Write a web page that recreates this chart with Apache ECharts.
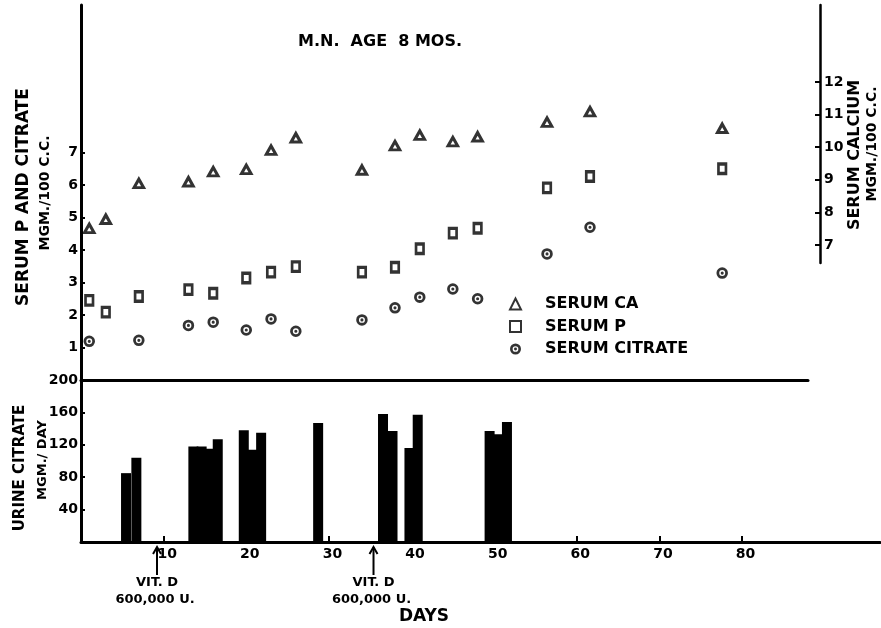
<!DOCTYPE html>
<html>
<head>
<meta charset="utf-8">
<script src="https://cdn.jsdelivr.net/npm/echarts@6/dist/echarts.min.js"></script>
<style>html,body{margin:0;padding:0;background:#fff}#c{width:881px;height:628px}</style>
</head>
<body>
<div id="c"></div>
<script>
// ---------- data ----------
const serumDays = [1, 3, 7, 13, 16, 20, 23, 26, 34, 38, 41, 45, 48, 56.4, 61.6, 77.6];
const serumCa   = [7.51, 7.79, 8.89, 8.94, 9.25, 9.32, 9.91, 10.29, 9.30, 10.05, 10.37, 10.17, 10.32, 10.77, 11.09, 10.58];
const serumP    = [2.45, 2.09, 2.57, 2.78, 2.67, 3.14, 3.32, 3.49, 3.32, 3.47, 4.04, 4.52, 4.67, 5.91, 6.26, 6.50];
const citrateDays = [1, 7, 13, 16, 20, 23, 26, 34, 38, 41, 45, 48, 56.4, 61.6, 77.6];
const serumCitrate = [1.19, 1.22, 1.68, 1.78, 1.54, 1.88, 1.50, 1.85, 2.22, 2.55, 2.80, 2.50, 3.88, 4.70, 3.29];
const urineDays = [5.45, 6.7, 13.6, 14.6, 15.6, 16.55, 19.7, 20.75, 21.8, 28.7, 36.55, 37.7, 39.75, 40.75, 49.45, 50.5, 51.55];
const urineCitrate = [85, 104, 118, 118, 115, 127, 138, 114, 135, 147, 158, 137, 116, 157, 137, 133, 148];
const dayTicks = [10, 20, 30, 40, 50, 60, 70, 80];
const leftTopTicks = [1, 2, 3, 4, 5, 6, 7];
const rightTicks = [7, 8, 9, 10, 11, 12];
const urineTicks = [40, 80, 120, 160, 200];
const vitDDays = [9.2, 35.4];
const legendNames = ['SERUM CA', 'SERUM P', 'SERUM CITRATE'];
const titleText = 'M.N.  AGE  8 MOS.';

// ---------- layout ----------
const FONT = 'DejaVu Sans';
const PX_PER_DAY = 8.263;
const BLACK = '#000';
const G0 = {left: 81, top: 5, width: 727, height: 375};
const G1 = {left: 81, top: 5, width: 739, height: 258};
const G2 = {left: 81, top: 380, width: 799, height: 162};
const PX_PER_UNIT_LEFT = 32.5;
const PX_PER_UNIT_RIGHT = 32.6;
const rightMin = 7 - (263 - 245) / PX_PER_UNIT_RIGHT;
const rightMax = 7 + (245 - 5) / PX_PER_UNIT_RIGHT;

const ringPath = 'path://M10,0 A10,10 0 1,1 10,20 A10,10 0 1,1 10,0 Z ' +
  'M10,4.8 A5.2,5.2 0 1,0 10,15.2 A5.2,5.2 0 1,0 10,4.8 Z ' +
  'M10,7.3 A2.7,2.7 0 1,1 10,12.7 A2.7,2.7 0 1,1 10,7.3 Z';

const lbl = (size) => ({fontFamily: FONT, fontWeight: 'bold', fontSize: size, color: BLACK});
const zip = (a, b) => a.map((v, i) => [v, b[i]]);

function grid(g) {
  return Object.assign({containLabel: false, outerBoundsMode: 'none', show: false}, g);
}

const option = {
  animation: false,
  backgroundColor: '#fff',
  title: {
    text: titleText, left: 298, top: 34, padding: 0,
    textStyle: lbl(16)
  },
  legend: {
    data: legendNames,
    orient: 'vertical', left: 509, top: 296, padding: 0,
    itemWidth: 11, itemHeight: 11, itemGap: 6.5,
    selectedMode: false,
    textStyle: Object.assign(lbl(16), {padding: [0, 0, 0, 19]})
  },
  grid: [grid(G0), grid(G1), grid(G2)],
  xAxis: [
    {gridIndex: 0, type: 'value', min: 0, max: G0.width / PX_PER_DAY,
     axisLine: {show: true, onZero: false, lineStyle: {color: BLACK, width: 3}},
     axisTick: {show: false}, axisLabel: {show: false}, splitLine: {show: false}},
    {gridIndex: 1, type: 'value', min: 0, max: G1.width / PX_PER_DAY, show: false,
     splitLine: {show: false}},
    {gridIndex: 2, type: 'value', min: 0, max: G2.width / PX_PER_DAY,
     axisLine: {show: true, onZero: false, lineStyle: {color: BLACK, width: 3}},
     axisTick: {show: true, inside: true, length: 6, customValues: dayTicks, lineStyle: {color: BLACK, width: 2}},
     axisLabel: Object.assign({customValues: dayTicks, margin: 5, padding: [0, 0, 0, 7]}, lbl(14)),
     splitLine: {show: false}}
  ],
  yAxis: [
    {gridIndex: 0, type: 'value', position: 'left', min: 0, max: G0.height / PX_PER_UNIT_LEFT,
     axisLine: {show: true, onZero: false, lineStyle: {color: BLACK, width: 3}},
     axisTick: {show: true, inside: true, length: 4, customValues: leftTopTicks, lineStyle: {color: BLACK, width: 2}},
     axisLabel: Object.assign({customValues: leftTopTicks, margin: 3}, lbl(14)),
     splitLine: {show: false}},
    {gridIndex: 1, type: 'value', position: 'right', min: rightMin, max: rightMax,
     axisLine: {show: true, onZero: false, lineStyle: {color: BLACK, width: 2.5}},
     axisTick: {show: true, inside: true, length: 5, customValues: rightTicks, lineStyle: {color: BLACK, width: 2}},
     axisLabel: Object.assign({customValues: rightTicks, margin: 4}, lbl(14)),
     splitLine: {show: false}},
    {gridIndex: 2, type: 'value', position: 'left', min: 0, max: 200,
     axisLine: {show: true, onZero: false, lineStyle: {color: BLACK, width: 3}},
     axisTick: {show: true, inside: true, length: 4, customValues: urineTicks, lineStyle: {color: BLACK, width: 2}},
     axisLabel: Object.assign({customValues: urineTicks, margin: 3}, lbl(14)),
     splitLine: {show: false}}
  ],
  series: [
    {name: 'SERUM CA', type: 'scatter', xAxisIndex: 1, yAxisIndex: 1,
     data: zip(serumDays, serumCa), symbol: 'triangle', symbolSize: [9.5, 8.5],
     itemStyle: {color: '#fff', borderColor: BLACK, borderWidth: 3}},
    {name: 'SERUM P', type: 'scatter', xAxisIndex: 0, yAxisIndex: 0,
     data: zip(serumDays, serumP), symbol: 'rect', symbolSize: [7.5, 9.5],
     itemStyle: {color: '#fff', borderColor: BLACK, borderWidth: 3}},
    {name: 'SERUM CITRATE', type: 'scatter', xAxisIndex: 0, yAxisIndex: 0,
     data: zip(citrateDays, serumCitrate), symbol: ringPath, symbolSize: 11.5,
     itemStyle: {color: BLACK, borderWidth: 0}},
    {name: 'URINE CITRATE', type: 'bar', xAxisIndex: 2, yAxisIndex: 2,
     data: zip(urineDays, urineCitrate), barWidth: 10,
     itemStyle: {color: BLACK}}
  ]
};

const chart = echarts.init(document.getElementById('c'), null, {renderer: 'canvas'});
chart.setOption(option);

function rotText(id, text, x, y, size) {
  return {type: 'text', id: id, x: x, y: y, rotation: Math.PI / 2,
    style: {text: text, align: 'center', verticalAlign: 'middle',
      font: 'bold ' + size + 'px "' + FONT + '"', fill: BLACK}};
}
function plainText(id, text, x, y, size) {
  return {type: 'text', id: id, x: x, y: y,
    style: {text: text, align: 'center', verticalAlign: 'middle',
      font: 'bold ' + size + 'px "' + FONT + '"', fill: BLACK}};
}

const graphics = [
  rotText('t1', 'SERUM P AND CITRATE', 24, 197, 17),
  rotText('t2', 'MGM./100 C.C.', 45, 193, 14),
  rotText('t3', 'URINE CITRATE', 20, 468, 15),
  rotText('t4', 'MGM./ DAY', 43, 460, 13),
  rotText('t5', 'SERUM CALCIUM', 855, 155, 16),
  rotText('t6', 'MGM./100 C.C.', 872, 144, 14),
  plainText('t7', 'DAYS', 424, 617, 17)
];
vitDDays.forEach((d, i) => {
  const p = chart.convertToPixel({gridIndex: 2}, [d, 0]);
  const x = p[0], y = p[1];
  graphics.push({type: 'line', id: 'al' + i, shape: {x1: x, y1: y + 5, x2: x, y2: y + 33},
    style: {stroke: BLACK, lineWidth: 2}});
  graphics.push({type: 'polyline', id: 'ah' + i, shape: {points: [[x - 4, y + 12], [x, y + 5], [x + 4, y + 12]]},
    style: {stroke: BLACK, lineWidth: 2, fill: null}});
  graphics.push(plainText('v1' + i, 'VIT. D', x, y + 41, 13));
  graphics.push(plainText('v2' + i, '600,000 U.', x - 2, y + 58, 13));
});
chart.setOption({graphic: graphics});
</script>
</body>
</html>
